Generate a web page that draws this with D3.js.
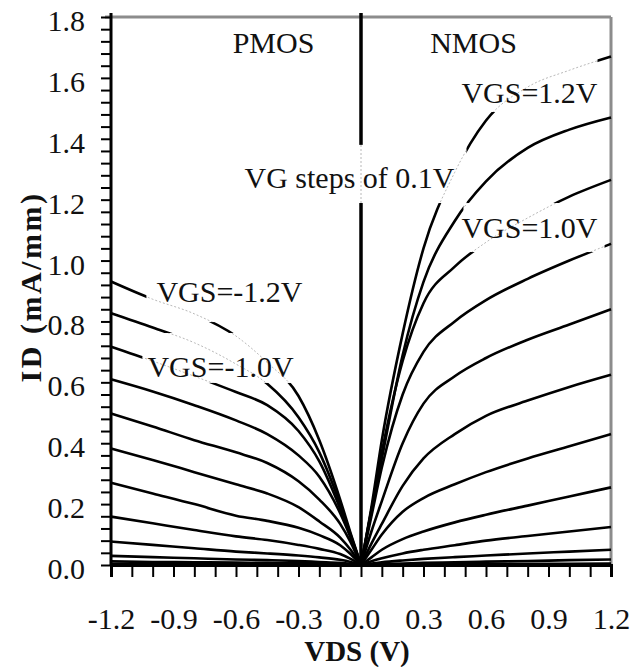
<!DOCTYPE html>
<html>
<head>
<meta charset="utf-8">
<script src="https://cdn.jsdelivr.net/npm/d3@7"></script>
<style>
  body { margin: 0; background: #fff; }
  svg text { font-family: "Liberation Serif", "Times New Roman", serif !important; fill: #111; }
</style>
</head>
<body>
<script>
// drain voltage sample points (V)
const vdsN = [0, 0.05, 0.1, 0.2, 0.3, 0.45, 0.6, 0.8, 1.0, 1.2];
const vdsP = [-1.2, -1.0, -0.8, -0.6, -0.45, -0.3, -0.2, -0.1, -0.05, 0];

// NMOS drain current (mA/mm), VGS = 1.2 down to 0.0 V
const vgsN = [1.2, 1.1, 1.0, 0.9, 0.8, 0.7, 0.6, 0.5, 0.4, 0.3, 0.2, 0.1, 0.0];
const idN = [
  [0, 0.19, 0.41, 0.76, 1.04, 1.29, 1.46, 1.57, 1.625, 1.67],
  [0, 0.18, 0.35, 0.69, 0.93, 1.13, 1.26, 1.37, 1.43, 1.47],
  [0, 0.18, 0.37, 0.67, 0.86, 0.98, 1.06, 1.14, 1.21, 1.265],
  [0, 0.16, 0.32, 0.56, 0.70, 0.80, 0.87, 0.94, 1.00, 1.055],
  [0, 0.11, 0.21, 0.40, 0.53, 0.62, 0.68, 0.74, 0.79, 0.84],
  [0, 0.07, 0.135, 0.26, 0.35, 0.43, 0.49, 0.54, 0.585, 0.625],
  [0, 0.05, 0.10, 0.175, 0.22, 0.265, 0.305, 0.35, 0.39, 0.43],
  [0, 0.025, 0.05, 0.085, 0.11, 0.14, 0.165, 0.195, 0.225, 0.255],
  [0, 0.012, 0.022, 0.038, 0.05, 0.065, 0.08, 0.095, 0.11, 0.125],
  [0, 0.005, 0.009, 0.015, 0.02, 0.026, 0.031, 0.038, 0.044, 0.05],
  [0, 0.002, 0.003, 0.005, 0.007, 0.009, 0.011, 0.013, 0.016, 0.018],
  [0, 0.001, 0.001, 0.002, 0.002, 0.003, 0.003, 0.004, 0.004, 0.005],
  [0, 0, 0, 0, 0, 0, 0, 0, 0, 0]
];

// PMOS drain current magnitude (mA/mm), VGS = -1.2 up to 0.0 V
const vgsP = [-1.2, -1.1, -1.0, -0.9, -0.8, -0.7, -0.6, -0.5, -0.4, -0.3, -0.2, -0.1, 0.0];
const idP = [
  [0.931, 0.873, 0.825, 0.752, 0.665, 0.555, 0.41, 0.215, 0.105, 0],
  [0.827, 0.78, 0.73, 0.66, 0.595, 0.485, 0.37, 0.20, 0.10, 0],
  [0.717, 0.67, 0.62, 0.568, 0.525, 0.44, 0.34, 0.185, 0.095, 0],
  [0.61, 0.57, 0.525, 0.475, 0.43, 0.36, 0.29, 0.17, 0.09, 0],
  [0.498, 0.455, 0.41, 0.37, 0.335, 0.275, 0.215, 0.135, 0.075, 0],
  [0.383, 0.345, 0.305, 0.265, 0.235, 0.19, 0.143, 0.09, 0.05, 0],
  [0.27, 0.235, 0.20, 0.162, 0.145, 0.122, 0.098, 0.065, 0.036, 0],
  [0.159, 0.137, 0.115, 0.094, 0.082, 0.066, 0.053, 0.036, 0.02, 0],
  [0.077, 0.066, 0.055, 0.044, 0.038, 0.031, 0.025, 0.017, 0.01, 0],
  [0.03, 0.026, 0.022, 0.018, 0.016, 0.013, 0.01, 0.007, 0.004, 0],
  [0.012, 0.01, 0.009, 0.008, 0.007, 0.006, 0.005, 0.003, 0.002, 0],
  [0.003, 0.003, 0.002, 0.002, 0.002, 0.001, 0.001, 0.001, 0, 0],
  [0, 0, 0, 0, 0, 0, 0, 0, 0, 0]
];

const xLabelTicks = [-1.2, -0.9, -0.6, -0.3, 0.0, 0.3, 0.6, 0.9, 1.2];
const yLabelTicks = [0.0, 0.2, 0.4, 0.6, 0.8, 1.0, 1.2, 1.4, 1.6, 1.8];

// annotations, placed in data units; box = white patch behind the text
const notes = [
  { text: "PMOS", x: -0.42, y: 1.682, anchor: "middle" },
  { text: "NMOS", x: 0.54, y: 1.682, anchor: "middle" },
  { text: "VG steps of 0.1V", x: -0.559, y: 1.238, anchor: "start", box: [-0.583, 0.506, 1.38, 1.189] },
  { text: "VGS=1.2V", x: 0.482, y: 1.518, anchor: "start", box: [0.463, 1.135, 1.666, 1.488] },
  { text: "VGS=1.0V", x: 0.482, y: 1.074, anchor: "start", box: [0.492, 1.169, 1.189, 1.028] },
  { text: "VGS=-1.2V", x: -0.982, y: 0.864, anchor: "start", box: [-1.03, -0.271, 0.976, 0.798] },
  { text: "VGS=-1.0V", x: -1.025, y: 0.618, anchor: "start", box: [-1.049, -0.31, 0.762, 0.598] }
];

const W = 635, H = 667;
const margin = { top: 17, right: 24, bottom: 102, left: 111 };
const width = W - margin.left - margin.right;
const height = H - margin.top - margin.bottom;

const svg = d3.select("body").append("svg")
  .attr("width", W)
  .attr("height", H);

const g = svg.append("g")
  .attr("transform", `translate(${margin.left},${margin.top})`);

const x = d3.scaleLinear().domain([-1.2, 1.2]).range([0, width]);
const y = d3.scaleLinear().domain([0, 1.8]).range([height, 0]);

const line = d3.line()
  .x(d => x(d[0]))
  .y(d => y(d[1]))
  .curve(d3.curveMonotoneX);

const series = [];
idN.forEach(vals => series.push(vals.map((v, i) => [vdsN[i], v])));
idP.forEach(vals => series.push(vals.map((v, i) => [vdsP[i], v])));

// gray frame on top and right
g.append("line")
  .attr("x1", -6).attr("x2", width).attr("y1", 0).attr("y2", 0)
  .attr("stroke", "#8c8c8c").attr("stroke-width", 3);
g.append("line")
  .attr("x1", width).attr("x2", width).attr("y1", 0).attr("y2", height)
  .attr("stroke", "#8c8c8c").attr("stroke-width", 3);

// curves
g.append("g").selectAll("path")
  .data(series)
  .join("path")
  .attr("d", line)
  .attr("fill", "none")
  .attr("stroke", "#000")
  .attr("stroke-width", 2.6);

// zero divider
g.append("line")
  .attr("x1", x(0)).attr("x2", x(0))
  .attr("y1", -4).attr("y2", height)
  .attr("stroke", "#000").attr("stroke-width", 3.5);

// white patches behind labels, with faint dotted remnants of the curves
const boxed = notes.filter(n => n.box);
const rectOf = b => ({
  x: x(b[0]), y: y(b[2]), w: x(b[1]) - x(b[0]), h: y(b[3]) - y(b[2])
});

const clip = svg.append("defs").append("clipPath").attr("id", "boxclip");
boxed.forEach(n => {
  const r = rectOf(n.box);
  clip.append("rect").attr("x", r.x).attr("y", r.y).attr("width", r.w).attr("height", r.h);
  g.append("rect").attr("x", r.x).attr("y", r.y).attr("width", r.w).attr("height", r.h)
    .attr("fill", "#fff");
});

const ghost = g.append("g").attr("clip-path", "url(#boxclip)");
ghost.selectAll("path")
  .data(series)
  .join("path")
  .attr("d", line)
  .attr("fill", "none")
  .attr("stroke", "#b8b8b8")
  .attr("stroke-width", 1)
  .attr("stroke-dasharray", "2,2");
ghost.append("line")
  .attr("x1", x(0)).attr("x2", x(0))
  .attr("y1", -4).attr("y2", height)
  .attr("stroke", "#b8b8b8").attr("stroke-width", 1)
  .attr("stroke-dasharray", "2,2");

// axes
const fmt = d => (Math.abs(d) < 1e-9 ? 0 : d).toFixed(1);
const near = (arr, d) => arr.some(t => Math.abs(t - d) < 1e-6);

const xAxis = d3.axisBottom(x)
  .tickValues(d3.range(-12, 13).map(k => k / 10))
  .tickSize(12)
  .tickPadding(31)
  .tickFormat(d => near(xLabelTicks, d) ? fmt(d) : "");

const yAxis = d3.axisLeft(y)
  .tickValues(d3.range(0, 46).map(k => k * 0.04))
  .tickSize(10)
  .tickPadding(16)
  .tickFormat(d => near(yLabelTicks, d) ? fmt(d) : "");

const gx = g.append("g")
  .attr("transform", `translate(0,${height})`)
  .call(xAxis);
const gy = g.append("g").call(yAxis);

[gx, gy].forEach(a => {
  a.attr("font-family", null);
  a.select(".domain").attr("stroke", "#000").attr("stroke-width", 3);
  a.selectAll(".tick line").attr("stroke", "#000").attr("stroke-width", 2);
  a.selectAll(".tick text")
    .attr("font-size", 30)
    .attr("fill", "#111");
});
gy.selectAll(".tick text").attr("dy", "0.45em");
gy.select(".domain").attr("d", `M0,-4V${height}`);

// annotations text
g.append("g").selectAll("text")
  .data(notes)
  .join("text")
  .attr("x", d => x(d.x))
  .attr("y", d => y(d.y))
  .attr("text-anchor", d => d.anchor)
  .attr("font-size", 30)
  .text(d => d.text);

// axis titles
svg.append("text")
  .attr("x", margin.left + x(0) - 4)
  .attr("y", 661)
  .attr("text-anchor", "middle")
  .attr("font-size", 29)
  .attr("font-weight", "bold")
  .text("VDS (V)");

svg.append("text")
  .attr("transform", "translate(41,287) rotate(-90)")
  .attr("text-anchor", "middle")
  .attr("font-size", 30)
  .attr("font-weight", "bold")
  .attr("letter-spacing", 2.5)
  .text("ID (mA/mm)");
</script>
</body>
</html>
